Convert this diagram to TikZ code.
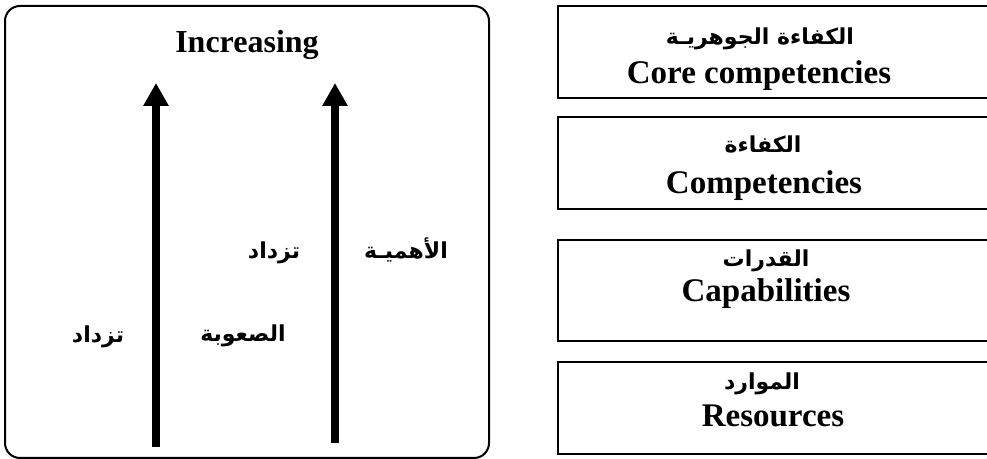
\documentclass[tikz,border=0pt]{standalone}
\usepackage{fontspec}
\setmainfont{Liberation Serif}
\newfontfamily\arabicfont[Script=Arabic]{DejaVu Sans}
\TeXXeTstate=1
\usetikzlibrary{arrows.meta}

\begin{document}
\begin{tikzpicture}[x=0.5pt,y=-0.5pt,
    entxt/.style={font=\fontsize{16.5}{19}\selectfont\bfseries,inner sep=0pt,anchor=base},
    artxt/.style={font=\fontsize{11}{13}\selectfont\arabicfont\bfseries,inner sep=0pt,anchor=base},
    levelbox/.style={line width=1.2pt},
    uparrow/.style={line width=4pt,-{Triangle[length=11.5pt,width=12pt]}}]
  \useasboundingbox (0,0) rectangle (987,459);
  \clip (0,0) rectangle (987,459);
  % left panel
  \draw[line width=1pt,rounded corners=7.5pt] (5,6) rectangle (489,458);
  \node[entxt,font=\fontsize{16}{19}\selectfont\bfseries] (incr) at (247,53) {Increasing};
  \coordinate (a1s) at (156,447);
  \coordinate (a1e) at (156,83);
  \coordinate (a2s) at (335,443);
  \coordinate (a2e) at (335,83);
  \draw[uparrow] (a1s) -- (a1e);
  \draw[uparrow] (a2s) -- (a2e);
  \foreach \x/\y/\name/\txt in {98/343/diffUp/تزداد,243/342/diff/الصعوبة,274/259/impUp/تزداد,406/259/imp/الأهميـة}
    \node[artxt] (\name) at (\x,\y) {\beginR\txt\endR};
  % right column of levels
  \foreach \top/\bot in {6/98,117/209,240/341,362/454}
    \draw[levelbox] (558,\top) rectangle (1000,\bot);
  \foreach \x/\y/\name/\txt in {760/45/coreAr/الكفاءة الجوهريـة,763/153/compAr/الكفاءة,766/267/capAr/القدرات,762/390/resAr/الموارد}
    \node[artxt] (\name) at (\x,\y) {\beginR\txt\endR};
  \foreach \x/\y/\name/\txt in {759/84/core/Core competencies,764/194/comp/Competencies,766/302/cap/Capabilities,773/427/res/Resources}
    \node[entxt] (\name) at (\x,\y) {\txt};
\end{tikzpicture}
\end{document}
